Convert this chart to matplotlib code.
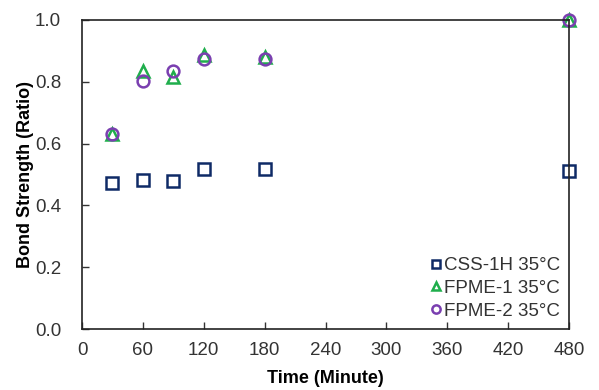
import numpy as np
import matplotlib
matplotlib.use('Agg')
import matplotlib.pyplot as plt

plt.rcParams['font.family'] = ['Liberation Sans', 'DejaVu Sans']

# data
time_min = [30, 60, 90, 120, 180, 480]
css_1h = [0.472, 0.482, 0.480, 0.517, 0.517, 0.512]
fpme_1 = [0.630, 0.835, 0.815, 0.885, 0.880, 1.000]
fpme_2 = [0.630, 0.802, 0.835, 0.875, 0.875, 1.000]
labels = ['CSS-1H 35°C', 'FPME-1 35°C', 'FPME-2 35°C']
colors = ['#0f2a66', '#1fae4c', '#7a3fb0']

fig = plt.figure(figsize=(5.99, 3.9), dpi=100)
ax = fig.add_axes([0.137, 0.156, 0.813, 0.793])

ax.plot(time_min, css_1h, ls='none', marker='s', ms=8.5, mfc='none', mec=colors[0], mew=1.8, label=labels[0], clip_on=False)
ax.plot(time_min, fpme_1, ls='none', marker='^', ms=8.5, mfc='none', mec=colors[1], mew=1.8, label=labels[1], clip_on=False)
ax.plot(time_min, fpme_2, ls='none', marker='o', ms=8.5, mfc='none', mec=colors[2], mew=1.8, label=labels[2], clip_on=False)

ax.set_xlim(0, 480)
ax.set_ylim(0, 1.0)
ax.set_xticks(np.arange(0, 481, 60))
ax.set_yticks(np.arange(0, 1.01, 0.2))
ax.set_yticklabels(['%.1f' % v for v in np.arange(0, 1.01, 0.2)])
ax.tick_params(direction='in', length=5, width=1, labelsize=13.5, colors='#333333')
ax.tick_params(axis='y', pad=15)
ax.tick_params(axis='x', pad=9)
for s in ax.spines.values():
    s.set_linewidth(1.2)
    s.set_color('#222222')

ax.set_xlabel('Time (Minute)', fontsize=13, fontweight='bold', labelpad=8)
ax.set_ylabel('Bond Strength (Ratio)', fontsize=13, fontweight='bold', labelpad=1)

leg = ax.legend(loc='lower right', frameon=False, fontsize=13.5, handlelength=0.5,
                handletextpad=0.15, labelspacing=0.3, borderaxespad=0.1,
                markerscale=0.7)
for t in leg.get_texts():
    t.set_color('#333333')

fig.savefig('out.png', dpi=100)
